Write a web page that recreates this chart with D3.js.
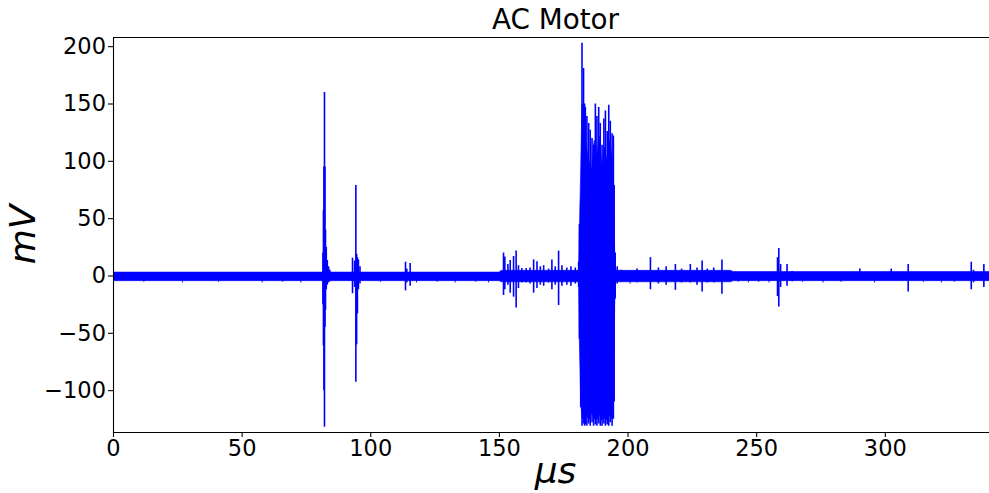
<!DOCTYPE html>
<meta charset="utf-8">
<style>
body { margin: 0; overflow: hidden; background: #fff; }
text { font-family: "DejaVu Sans", sans-serif; fill: #000; }
.axis path, .axis line { stroke: #000; stroke-width: 1.1px; }
.axis text { font-size: 22.5px; }
.band { fill: #0000ff; stroke: #0000ff; stroke-width: 0.6px; }
.spike { stroke: #0000ff; stroke-width: 1.6px; }
</style>
<svg width="989" height="493"></svg>
<script src="https://d3js.org/d3.v7.min.js"></script>
<script>
// tick labels
var xTicks = [0, 50, 100, 150, 200, 250, 300];
var yTicks = [-100, -50, 0, 50, 100, 150, 200];

// noise floor envelope of the trace (µs, mV)
var bandT  = [0, 150, 151, 181, 181.3, 181.8, 182.3, 183.0, 184.0, 185.0, 186.0, 187.0,
              188.0, 189.0, 190.0, 191.0, 192.0, 193.0, 194.0, 194.6, 195.0, 195.4, 240, 241, 345];
var bandHi = [3, 3, 4.5, 4.5, 40, 95, 150, 125, 112, 100, 92, 118,
              105, 122, 96, 112, 100, 118, 104, 70, 20, 4.5, 4.5, 3.5, 3.5];
var bandLo = [-4.5, -4.5, -5.5, -5.5, -60, -110, -124, -126, -122, -126, -120, -125,
              -126, -121, -126, -124, -126, -122, -125, -100, -25, -5.5, -5.5, -4.5, -4.5];

// individual excursions: time, max, min
var spikeT  = [81.6, 81.8, 82.0, 82.2, 82.4, 82.6, 82.9, 83.3, 83.8, 84.3,
               93.1, 93.9, 94.4, 94.7, 95.0, 95.4, 96.0,
               113.7, 114.2, 115.5,
               151.8, 152.3, 153.5, 154.4, 155.7, 156.7, 157.6, 158.9, 160.6, 162.1,
               163.5, 164.8, 166.1, 167.4, 169.3, 170.6, 171.9, 173.2, 174.5, 176.4,
               178.0, 179.7, 181.0,
               181.3, 181.8, 182.3, 182.9, 183.3, 183.6, 184.2, 184.9, 185.5, 186.2,
               186.8, 187.5, 188.1, 188.8, 189.4, 190.1, 190.8, 191.4, 192.1, 192.7,
               193.3, 194.0, 194.5, 194.8, 195.2,
               196.0, 197.5, 203.7, 208.9, 212.0, 215.0, 218.6, 221.0, 224.4, 227.0,
               229.0, 231.0, 233.5, 236.7,
               258.3, 258.8, 259.5, 262.0, 264.0,
               290.3, 302.5, 309.1, 333.6, 334.5, 338.5];
var spikeHi = [20, 57, 95, 160, 95, 40, 25, 13.5, 8, 5,
               15.5, 13, 79, 19, 16, 14, 8,
               12, 6, 11,
               20, 16.5, 10, 13.5, 17, 21.7, 9, 6.5, 6.5, 7,
               14, 12.5, 8, 9, 6, 14, 8, 21.7, 9, 7,
               8, 7, 12,
               45, 65, 203, 181, 150, 147, 139, 133, 127, 120,
               114, 150, 139, 147, 133, 114, 137, 144, 126, 149,
               135, 124, 122, 79, 20,
               8, 5, 6, 16, 7, 8, 10, 6, 10, 7,
               13, 6, 7, 14,
               16, 24, 10, 10, 4,
               6, 6, 10, 12, 5, 10];
var spikeLo = [-25, -61, -100, -132, -45, -30, -12, -8, -6, -5,
               -15.5, -10, -92.7, -60, -33, -12, -7,
               -13, -6, -9,
               -17, -12, -8, -15, -18.5, -28, -11, -6, -6, -7,
               -15, -11, -8, -9, -6, -12, -8, -25.7, -9, -8,
               -9, -7, -10,
               -55, -115, -131, -129, -131, -130, -131, -129, -131, -128,
               -131, -130, -131, -129, -131, -131, -129, -131, -130, -131,
               -128, -131, -125, -110, -20,
               -7, -5, -6, -12, -7, -8, -12.5, -6, -6, -8,
               -14, -6, -6, -16,
               -18, -27, -10, -9, -5,
               -4, -4, -14, -12, -6, -10];

// small sporadic dips below the noise floor
var dipT  = [12, 27, 41, 58, 66, 73, 104, 118, 126, 133, 141, 146, 201, 243, 247, 251, 255,
             268, 276, 283, 296, 315, 322, 327];
var dipLo = [-5.5, -6, -5.5, -6, -5.5, -6, -5.5, -6, -5.5, -6, -5.5, -6, -7, -5.5, -6, -5.5, -6,
             -5.5, -6, -5.5, -6, -5.5, -6, -5.5];

var svg = d3.select("svg"),
    margin = {top: 37, left: 113, bottom: 61},
    plotRight = 998,
    height = 493 - margin.top - margin.bottom,
    width = plotRight - margin.left,
    g = svg.append("g").attr("transform", "translate(" + margin.left + "," + margin.top + ")");

var x = d3.scaleLinear().domain([0, 344]).range([0, width]),
    y = d3.scaleLinear().domain([-136.5, 208]).range([height, 0]);

svg.append("defs").append("clipPath").attr("id", "clip")
  .append("rect").attr("width", width).attr("height", height);

var plot = g.append("g").attr("clip-path", "url(#clip)");

var band = bandT.map(function(t, i) { return {t: t, hi: bandHi[i], lo: bandLo[i]}; });
var area = d3.area()
    .x(function(d) { return x(d.t); })
    .y0(function(d) { return y(d.lo); })
    .y1(function(d) { return y(d.hi); });

plot.append("path")
    .datum(band)
    .attr("class", "band")
    .attr("d", area);

var spikes = spikeT.map(function(t, i) { return {t: t, hi: spikeHi[i], lo: spikeLo[i]}; });
plot.selectAll(".spike")
  .data(spikes)
  .enter().append("line")
    .attr("class", "spike")
    .attr("x1", function(d) { return x(d.t); })
    .attr("x2", function(d) { return x(d.t); })
    .attr("y1", function(d) { return y(d.hi); })
    .attr("y2", function(d) { return y(d.lo); });

var dips = dipT.map(function(t, i) { return {t: t, lo: dipLo[i]}; });
plot.selectAll(".dip")
  .data(dips)
  .enter().append("line")
    .attr("class", "spike")
    .style("stroke-width", "1px")
    .attr("x1", function(d) { return x(d.t); })
    .attr("x2", function(d) { return x(d.t); })
    .attr("y1", y(0))
    .attr("y2", function(d) { return y(d.lo); });

// axes
g.append("g")
    .attr("class", "axis axis--x")
    .attr("transform", "translate(0," + height + ")")
    .call(d3.axisBottom(x).tickValues(xTicks).tickSize(5).tickSizeOuter(0).tickPadding(3));

g.append("g")
    .attr("class", "axis axis--y")
    .call(d3.axisLeft(y).tickValues(yTicks).tickSize(5).tickSizeOuter(0).tickPadding(2));

g.selectAll(".axis text").attr("font-family", "DejaVu Sans");

// top and right spines
g.append("line").attr("x1", 0).attr("x2", width).attr("y1", 0.5).attr("y2", 0.5)
    .attr("stroke", "#000").attr("stroke-width", 1.1);
g.append("line").attr("x1", width).attr("x2", width).attr("y1", 0).attr("y2", height)
    .attr("stroke", "#000").attr("stroke-width", 1.1);

// title and labels
svg.append("text")
    .attr("x", margin.left + width / 2)
    .attr("y", 29)
    .attr("text-anchor", "middle")
    .style("font-size", "27.8px")
    .text("AC Motor");

svg.append("text")
    .attr("x", margin.left + width / 2)
    .attr("y", 483)
    .attr("text-anchor", "middle")
    .style("font-size", "36px")
    .style("font-style", "italic")
    .text("μs");

svg.append("text")
    .attr("transform", "translate(35," + (margin.top + height / 2) + ") rotate(-90)")
    .attr("text-anchor", "middle")
    .style("font-size", "36px")
    .style("font-style", "italic")
    .text("mV");
</script>
